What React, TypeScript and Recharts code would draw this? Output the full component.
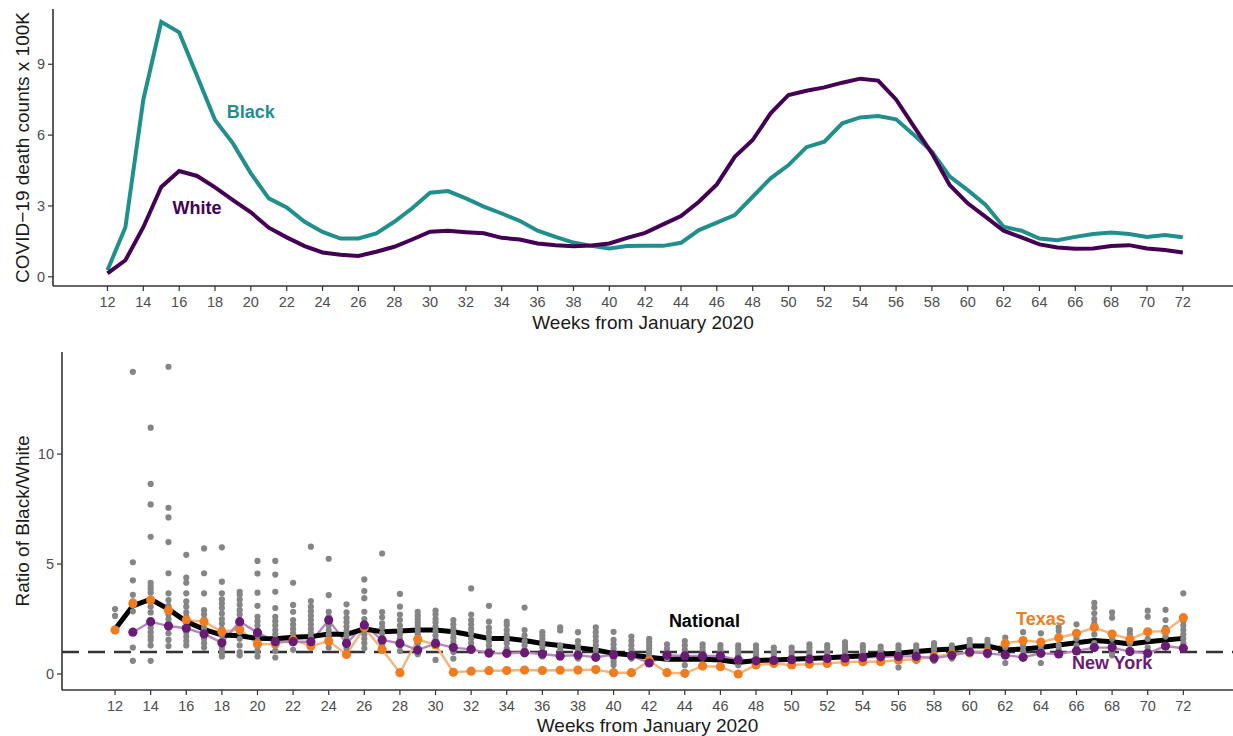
import React from 'react';
import {
  LineChart,
  Line,
  XAxis,
  YAxis,
  ComposedChart,
  Scatter,
  ReferenceLine,
  ReferenceDot,
  Label,
} from 'recharts';

// ---------- DATA ----------
const weeks = [
  12, 13, 14, 15, 16, 17, 18, 19, 20, 21, 22, 23, 24, 25, 26, 27, 28, 29, 30, 31,
  32, 33, 34, 35, 36, 37, 38, 39, 40, 41, 42, 43, 44, 45, 46, 47, 48, 49, 50, 51,
  52, 53, 54, 55, 56, 57, 58, 59, 60, 61, 62, 63, 64, 65, 66, 67, 68, 69, 70, 71, 72,
];

const weekTicks = [
  12, 14, 16, 18, 20, 22, 24, 26, 28, 30, 32, 34, 36, 38, 40, 42, 44, 46, 48, 50,
  52, 54, 56, 58, 60, 62, 64, 66, 68, 70, 72,
];
const topYTicks = [0, 3, 6, 9];
const bottomYTicks = [0, 5, 10];

// COVID-19 death counts x 100K
const blackRate = [
  0.28, 2.1, 7.5, 10.8, 10.35, 8.5, 6.64, 5.65, 4.38, 3.32, 2.94, 2.33, 1.9, 1.62, 1.62,
  1.84, 2.33, 2.9, 3.56, 3.63, 3.32, 2.97, 2.68, 2.37, 1.95, 1.69, 1.45, 1.31, 1.2, 1.3,
  1.31, 1.31, 1.44, 1.98, 2.29, 2.61, 3.39, 4.17, 4.73, 5.49, 5.72, 6.5, 6.75, 6.81, 6.67,
  6.0, 5.3, 4.24, 3.67, 3.04, 2.12, 1.95, 1.62, 1.55, 1.69, 1.81, 1.88, 1.81, 1.69, 1.77, 1.67,
];
const whiteRate = [
  0.14, 0.7, 2.1, 3.8, 4.48, 4.27, 3.79, 3.25, 2.73, 2.08, 1.67, 1.3, 1.03, 0.93, 0.88,
  1.06, 1.27, 1.58, 1.91, 1.95, 1.89, 1.84, 1.65, 1.58, 1.41, 1.34, 1.29, 1.33, 1.41, 1.65,
  1.86, 2.22, 2.57, 3.18, 3.91, 5.08, 5.79, 6.92, 7.7, 7.88, 8.02, 8.22, 8.39, 8.31, 7.51,
  6.36, 5.23, 3.88, 3.11, 2.54, 1.95, 1.67, 1.37, 1.24, 1.19, 1.2, 1.3, 1.34, 1.2, 1.13, 1.03,
];

// Ratio of Black/White
const nationalRatio = [
  2.03, 3.1, 3.4, 2.95, 2.38, 2.03, 1.77, 1.74, 1.62, 1.6, 1.67, 1.7, 1.82, 1.8, 2.05,
  1.92, 1.95, 2.0, 2.0, 1.92, 1.77, 1.62, 1.62, 1.52, 1.39, 1.3, 1.2, 1.09, 0.94, 0.86,
  0.76, 0.67, 0.67, 0.67, 0.64, 0.52, 0.61, 0.64, 0.67, 0.71, 0.74, 0.79, 0.83, 0.91, 0.94,
  1.02, 1.09, 1.14, 1.27, 1.27, 1.09, 1.14, 1.21, 1.32, 1.42, 1.52, 1.47, 1.36, 1.47, 1.55, 1.62,
];
const texasRatio = [
  2.0, 3.2, 3.36, 2.9, 2.45, 2.38, 1.92, 2.03, 1.36, 1.36, 1.55, 1.27, 1.5, 0.89, 2.11,
  1.12, 0.06, 1.58, 1.32, 0.08, 0.13, 0.15, 0.16, 0.18, 0.16, 0.17, 0.18, 0.2, 0.06, 0.06,
  0.61, 0.06, 0.03, 0.36, 0.33, 0.0, 0.41, 0.48, 0.41, 0.45, 0.48, 0.55, 0.56, 0.56, 0.64,
  0.67, 0.8, 0.9, 0.97, 1.0, 1.39, 1.52, 1.45, 1.65, 1.85, 2.11, 1.82, 1.58, 1.92, 1.95, 2.56,
];
const newYorkRatio = [
  null, 1.9, 2.38, 2.18, 2.08, 1.82, 1.42, 2.38, 1.88, 1.47, 1.47, 1.47, 2.45, 1.39, 2.23,
  1.55, 1.39, 1.09, 1.39, 1.2, 1.12, 0.95, 0.94, 0.97, 0.91, 0.82, 0.86, 0.76, 0.88, 0.84,
  0.5, 0.86, 0.82, 0.82, 0.82, 0.64, 0.6, 0.62, 0.65, 0.68, 0.7, 0.72, 0.75, 0.78, 0.8,
  0.8, 0.72, 0.85, 1.0, 0.94, 0.86, 0.76, 0.94, 0.91, 1.05, 1.2, 1.2, 1.02, 0.94, 1.27, 1.17,
];

// individual state ratios, one list per week (12..72)
const stateRatios = [
  [2.95, 2.64, 2.0],
  [13.74, 5.08, 4.26, 3.6, 3.3, 2.85, 1.2, 0.6],
  [11.2, 8.64, 7.71, 6.24, 4.15, 4.0, 3.86, 3.7, 3.06, 2.8, 2.1, 1.9, 1.7, 1.55, 1.3, 0.6],
  [13.97, 7.56, 7.12, 6.0, 4.58, 3.67, 3.36, 3.1, 2.9, 2.7, 2.5, 2.3, 2.1, 1.85, 1.55, 1.27],
  [5.42, 4.38, 4.15, 3.67, 3.3, 3.06, 2.8, 2.6, 2.35, 2.1, 1.9, 1.7, 1.5, 1.3],
  [5.71, 4.58, 3.67, 2.9, 2.7, 2.5, 2.1, 1.9, 1.6, 1.4, 1.2],
  [5.76, 4.2, 3.67, 3.4, 3.2, 3.0, 2.75, 2.5, 2.3, 2.05, 1.75, 1.5, 1.25, 1.1, 0.94, 0.8],
  [3.74, 3.6, 3.38, 3.15, 2.9, 2.7, 2.45, 2.2, 1.9, 1.6, 1.3, 1.0, 0.85],
  [5.14, 4.57, 3.7, 3.1, 2.6, 2.4, 2.2, 2.0, 1.75, 1.5, 1.25, 1.05, 0.8],
  [5.14, 4.52, 3.74, 3.0, 2.6, 2.4, 2.2, 2.0, 1.8, 1.55, 1.3, 1.05, 0.75],
  [4.15, 3.14, 2.83, 2.45, 2.25, 2.05, 1.85, 1.65, 1.4, 1.1],
  [5.79, 3.32, 3.06, 2.85, 2.65, 2.45, 2.25, 2.05, 1.85, 1.65, 1.45, 1.2],
  [5.24, 3.59, 2.83, 2.6, 2.2, 2.0, 1.8, 1.6, 1.4, 1.2],
  [3.17, 2.8, 2.55, 2.35, 2.15, 1.95, 1.75, 1.55, 1.35, 1.15],
  [4.3, 3.77, 3.45, 2.83, 2.5, 2.3, 2.0, 1.8, 1.6, 1.4, 1.17],
  [5.48, 2.82, 2.58, 2.3, 2.1, 1.85, 1.6, 1.35],
  [3.64, 3.06, 2.7, 2.45, 2.2, 2.0, 1.8, 1.6, 1.3, 1.05],
  [2.83, 2.65, 2.5, 2.35, 2.2, 2.0, 1.8, 1.6, 1.4, 1.1, 0.9],
  [2.88, 2.7, 2.5, 2.35, 2.15, 1.95, 1.75, 1.55, 1.3, 0.64],
  [2.45, 2.25, 2.05, 1.85, 1.65, 1.45, 1.25, 1.0, 0.7],
  [3.89, 2.7, 2.45, 2.25, 2.05, 1.85, 1.6, 1.4, 1.1],
  [3.1, 2.38, 2.1, 1.9, 1.7, 1.5, 1.3, 1.1, 0.9],
  [2.38, 2.23, 2.0, 1.8, 1.6, 1.4, 1.15, 0.95],
  [3.02, 2.0, 1.75, 1.5, 1.3, 1.1, 0.9],
  [1.9, 1.75, 1.6, 1.4, 1.2, 1.0, 0.8],
  [2.12, 1.98, 1.3, 1.1, 0.9, 0.75],
  [1.9, 1.5, 1.3, 1.1, 0.9, 0.7],
  [2.12, 1.9, 1.7, 1.5, 1.3, 1.1, 0.9, 0.75],
  [1.92, 1.55, 1.35, 1.15, 1.0, 0.85, 0.7, 0.55, 0.41],
  [1.7, 1.5, 1.3, 1.1, 0.9, 0.7],
  [1.6, 1.45, 1.3, 1.15, 1.0, 0.85],
  [1.35, 1.15, 1.0, 0.85, 0.7],
  [1.5, 1.3, 1.1, 0.95, 0.8, 0.4],
  [1.35, 1.2, 1.05, 0.9, 0.75],
  [1.32, 1.18, 1.05, 0.9],
  [1.3, 1.15, 1.0, 0.85, 0.7, 0.4],
  [1.3, 1.15, 1.0, 0.85, 0.7],
  [1.2, 1.05, 0.9, 0.75],
  [1.2, 1.05, 0.9, 0.75, 0.6],
  [1.35, 1.2, 1.05, 0.9, 0.75],
  [1.32, 1.2, 1.05, 0.9, 0.7],
  [1.45, 1.3, 1.15, 1.0, 0.8],
  [1.32, 1.2, 1.05, 0.9, 0.75],
  [1.25, 1.1, 0.95, 0.8, 0.6],
  [1.3, 1.15, 1.0, 0.8, 0.6, 0.3],
  [1.3, 1.15, 1.0, 0.8, 0.6],
  [1.4, 1.25, 1.1, 0.9, 0.75, 0.6],
  [1.3, 1.15, 1.0, 0.8, 0.7],
  [1.55, 1.4, 1.25, 1.05, 0.9],
  [1.55, 1.4, 1.25, 1.05, 0.85],
  [1.65, 1.2, 0.9, 0.5],
  [1.9, 1.4, 1.25, 1.05],
  [1.85, 1.3, 1.1, 0.95, 0.5],
  [2.12, 1.95, 1.3, 1.1, 0.95],
  [2.26, 1.6, 1.3, 1.1],
  [3.24, 3.02, 2.76, 2.5, 2.3, 1.8, 1.4],
  [2.8, 2.56, 1.6, 1.3, 1.0, 0.85],
  [2.0, 1.82, 1.4, 1.1],
  [2.88, 2.6, 1.6, 1.2],
  [2.92, 2.45, 2.1, 1.7, 1.3],
  [3.67, 2.4, 2.2, 2.0, 1.8, 1.6, 1.4],
];

// ---------- derived tables ----------
const topData = weeks.map((w, i) => ({ week: w, black: blackRate[i], white: whiteRate[i] }));
const ratioData = weeks.map((w, i) => ({
  week: w,
  national: nationalRatio[i],
  texas: texasRatio[i],
  newYork: newYorkRatio[i],
}));
const stateData = weeks.flatMap((w, i) => stateRatios[i].map((r) => ({ week: w, ratio: r })));

// ---------- styles ----------
const FONT = '"Liberation Sans", Arial, Helvetica, sans-serif';
const AXIS = '#333333';
const TICK_TEXT = '#4d4d4d';
const TEAL = '#21908c';
const DARK_PURPLE = '#440154';
const ORANGE = '#ef7d1f';
const ORANGE_LINE = '#f6b37c';
const NY_PURPLE = '#6a1b74';
const NY_LINE = '#b487bb';

const tickStyle = { fill: TICK_TEXT, fontSize: 14.5, fontFamily: FONT };
const titleStyle = { fontSize: 19, fill: '#1a1a1a', fontFamily: FONT, textAnchor: 'middle' as const };

const GreyDot = (props: any) => {
  const { cx, cy } = props;
  if (cx == null || cy == null) return null;
  return <circle cx={cx} cy={cy} r={3.1} fill="#858585" />;
};

export default function App() {
  return (
    <div
      style={{
        position: 'absolute',
        left: 0,
        top: 0,
        width: 1233,
        height: 736,
        background: '#ffffff',
        fontFamily: FONT,
      }}
    >
      <LineChart width={1233} height={340} data={topData} margin={{ top: 9, right: 0, bottom: 0, left: 0 }}>
        <XAxis
          dataKey="week"
          type="number"
          domain={[8.96, 74.8]}
          allowDataOverflow
          ticks={weekTicks}
          interval={0}
          height={54}
          tickSize={5}
          tickMargin={6}
          axisLine={{ stroke: AXIS, strokeWidth: 1.6 }}
          tickLine={{ stroke: AXIS, strokeWidth: 1.2 }}
          tick={tickStyle}
        >
          <Label value="Weeks from January 2020" position="insideBottom" offset={11} style={titleStyle} />
        </XAxis>
        <YAxis
          type="number"
          domain={[-0.39, 11.34]}
          allowDataOverflow
          ticks={topYTicks}
          interval={0}
          width={53}
          tickSize={5}
          tickMargin={3}
          axisLine={{ stroke: AXIS, strokeWidth: 1.6 }}
          tickLine={{ stroke: AXIS, strokeWidth: 1.2 }}
          tick={tickStyle}
        >
          <Label
            value="COVID−19 death counts x 100K"
            angle={-90}
            position="insideLeft"
            offset={22.5}
            style={titleStyle}
          />
        </YAxis>
        <Line dataKey="black" stroke={TEAL} strokeWidth={4} dot={false} isAnimationActive={false} />
        <Line dataKey="white" stroke={DARK_PURPLE} strokeWidth={4} dot={false} isAnimationActive={false} />
        <ReferenceDot
          x={20}
          y={6.98}
          r={0}
          fill="none"
          stroke="none"
          label={{ value: 'Black', position: 'center', fill: TEAL, fontSize: 18, fontWeight: 'bold', fontFamily: FONT }}
        />
        <ReferenceDot
          x={17}
          y={2.95}
          r={0}
          fill="none"
          stroke="none"
          label={{ value: 'White', position: 'center', fill: DARK_PURPLE, fontSize: 18, fontWeight: 'bold', fontFamily: FONT }}
        />
      </LineChart>

      <ComposedChart width={1233} height={396} data={ratioData} margin={{ top: 12, right: 0, bottom: 0, left: 0 }}>
        <XAxis
          dataKey="week"
          type="number"
          domain={[9.02, 74.79]}
          allowDataOverflow
          ticks={weekTicks}
          interval={0}
          height={46}
          tickSize={5}
          tickMargin={6}
          axisLine={{ stroke: AXIS, strokeWidth: 1.6 }}
          tickLine={{ stroke: AXIS, strokeWidth: 1.2 }}
          tick={tickStyle}
        >
          <Label value="Weeks from January 2020" position="insideBottom" offset={4} style={titleStyle} />
        </XAxis>
        <YAxis
          type="number"
          domain={[-0.727, 14.64]}
          allowDataOverflow
          ticks={bottomYTicks}
          interval={0}
          width={62}
          tickSize={5}
          tickMargin={3}
          axisLine={{ stroke: AXIS, strokeWidth: 1.6 }}
          tickLine={{ stroke: AXIS, strokeWidth: 1.2 }}
          tick={tickStyle}
        >
          <Label
            value="Ratio of Black/White"
            angle={-90}
            position="insideLeft"
            offset={22}
            style={titleStyle}
          />
        </YAxis>
        <Scatter data={stateData} dataKey="ratio" shape={GreyDot} isAnimationActive={false} />
        <ReferenceLine y={1} stroke="#333333" strokeWidth={2.6} strokeDasharray="17 9" />
        <Line
          dataKey="texas"
          stroke={ORANGE_LINE}
          strokeWidth={2.4}
          dot={{ r: 4.6, fill: ORANGE, stroke: ORANGE, strokeWidth: 0 }}
          isAnimationActive={false}
        />
        <Line
          dataKey="newYork"
          stroke={NY_LINE}
          strokeWidth={2.4}
          dot={{ r: 4.6, fill: NY_PURPLE, stroke: NY_PURPLE, strokeWidth: 0 }}
          isAnimationActive={false}
        />
        <Line dataKey="national" stroke="#000000" strokeWidth={5} dot={false} isAnimationActive={false} />
        <ReferenceDot
          x={45.1}
          y={2.45}
          r={0}
          fill="none"
          stroke="none"
          label={{ value: 'National', position: 'center', fill: '#000000', fontSize: 18, fontWeight: 'bold', fontFamily: FONT }}
        />
        <ReferenceDot
          x={64}
          y={2.5}
          r={0}
          fill="none"
          stroke="none"
          label={{ value: 'Texas', position: 'center', fill: ORANGE, fontSize: 18, fontWeight: 'bold', fontFamily: FONT }}
        />
        <ReferenceDot
          x={68}
          y={0.5}
          r={0}
          fill="none"
          stroke="none"
          label={{ value: 'New York', position: 'center', fill: NY_PURPLE, fontSize: 18, fontWeight: 'bold', fontFamily: FONT }}
        />
      </ComposedChart>
    </div>
  );
}
